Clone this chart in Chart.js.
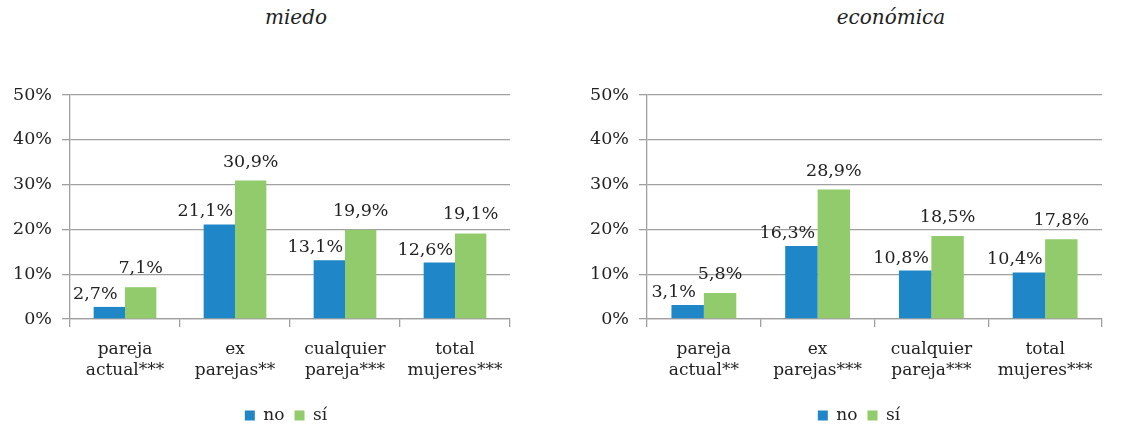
<!DOCTYPE html>
<html><head><meta charset="utf-8">
<script src="https://cdn.jsdelivr.net/npm/chart.js@4"></script>
<style>
html,body{margin:0;padding:0;}
body{width:1122px;height:427px;background:#fff;position:relative;overflow:hidden;}
.t{position:absolute;top:5px;font:italic 20px "DejaVu Serif";color:#222;transform:translateX(-50%);white-space:nowrap;}
.w{position:absolute;top:60px;height:375px;}
#w1{left:0;width:560px;}
#w2{left:580px;width:542px;}
</style></head><body>
<div class="t" style="left:296px">miedo</div>
<div class="t" style="left:891px">económica</div>
<div class="w" id="w1"><canvas id="c1"></canvas></div>
<div class="w" id="w2"><canvas id="c2"></canvas></div>
<script>
const titles = ["miedo", "económica"];
const categoriesMiedo = [["pareja","actual***"],["ex","parejas**"],["cualquier","pareja***"],["total","mujeres***"]];
const categoriesEconomica = [["pareja","actual**"],["ex","parejas***"],["cualquier","pareja***"],["total","mujeres***"]];
const seriesNames = ["no","sí"];
const miedoNo = [2.7, 21.1, 13.1, 12.6];
const miedoSi = [7.1, 30.9, 19.9, 19.1];
const economicaNo = [3.1, 16.3, 10.8, 10.4];
const economicaSi = [5.8, 28.9, 18.5, 17.8];
const yMin = 0, yMax = 50, yStep = 10;

const BLUE = '#1f86c7', GREEN = '#92cb6c', TXT = '#222222', GRID = '#a0a0a0';
const FONT = '"DejaVu Serif", serif';

const labelPlugin = {
  id: 'vlabels',
  afterDatasetsDraw(chart, args, opts) {
    const ctx = chart.ctx;
    ctx.save();
    ctx.font = '17.5px ' + FONT;
    ctx.fillStyle = TXT;
    ctx.textAlign = 'center';
    ctx.textBaseline = 'alphabetic';
    chart.data.datasets.forEach((ds, i) => {
      const meta = chart.getDatasetMeta(i);
      const off = opts.offsets[i];
      meta.data.forEach((bar, j) => {
        const txt = ds.data[j].toFixed(1).replace('.', ',') + '%';
        ctx.fillText(txt, bar.x + off.dx, bar.y - off.gap);
      });
    });
    ctx.restore();
  }
};

const legendShift = {
  id: 'legendShift',
  afterLayout(chart, args, opts) {
    const l = chart.legend;
    if (l) { l.left += opts.dx; l.right += opts.dx; }
  }
};

function makeChart(id, cats, noVals, siVals, padR, yW, legendDx) {
  return new Chart(document.getElementById(id), {
    type: 'bar',
    data: {
      labels: cats,
      datasets: [
        {label: seriesNames[0], data: noVals, backgroundColor: BLUE, borderWidth: 0},
        {label: seriesNames[1], data: siVals, backgroundColor: GREEN, borderWidth: 0}
      ]
    },
    options: {
      responsive: true,
      maintainAspectRatio: false,
      animation: false,
      events: [],
      categoryPercentage: 0.57,
      barPercentage: 1.0,
      layout: {padding: {top: 35, left: 0, right: padR, bottom: 1}},
      plugins: {
        legend: {
          position: 'bottom',
          labels: {boxWidth: 10, boxHeight: 10, padding: 10, color: TXT, font: {family: FONT, size: 17}}
        },
        tooltip: {enabled: false},
        vlabels: {offsets: [{dx: -14, gap: 8}, {dx: 0, gap: 14}]},
        legendShift: {dx: legendDx}
      },
      scales: {
        x: {
          offset: true,
          grid: {offset: true, drawOnChartArea: false, drawTicks: true, tickLength: 8, color: GRID, lineWidth: 1.3},
          border: {color: GRID, width: 1.3},
          ticks: {color: TXT, font: {family: FONT, size: 17, lineHeight: 1.25}, padding: 12, maxRotation: 0, autoSkip: false},
          afterFit(s) { s.height = 78; }
        },
        y: {
          min: yMin, max: yMax,
          grid: {color: GRID, lineWidth: 1.3, tickLength: 8},
          border: {color: GRID, width: 1.3},
          ticks: {stepSize: yStep, color: TXT, font: {family: FONT, size: 17.5}, padding: 10, callback: v => v + '%'},
          afterFit(s) { s.width = yW; }
        }
      }
    },
    plugins: [labelPlugin, legendShift]
  });
}

makeChart('c1', categoriesMiedo, miedoNo, miedoSi, 50, 70, 31);
makeChart('c2', categoriesEconomica, economicaNo, economicaSi, 20, 67, 18);
</script>
</body></html>
